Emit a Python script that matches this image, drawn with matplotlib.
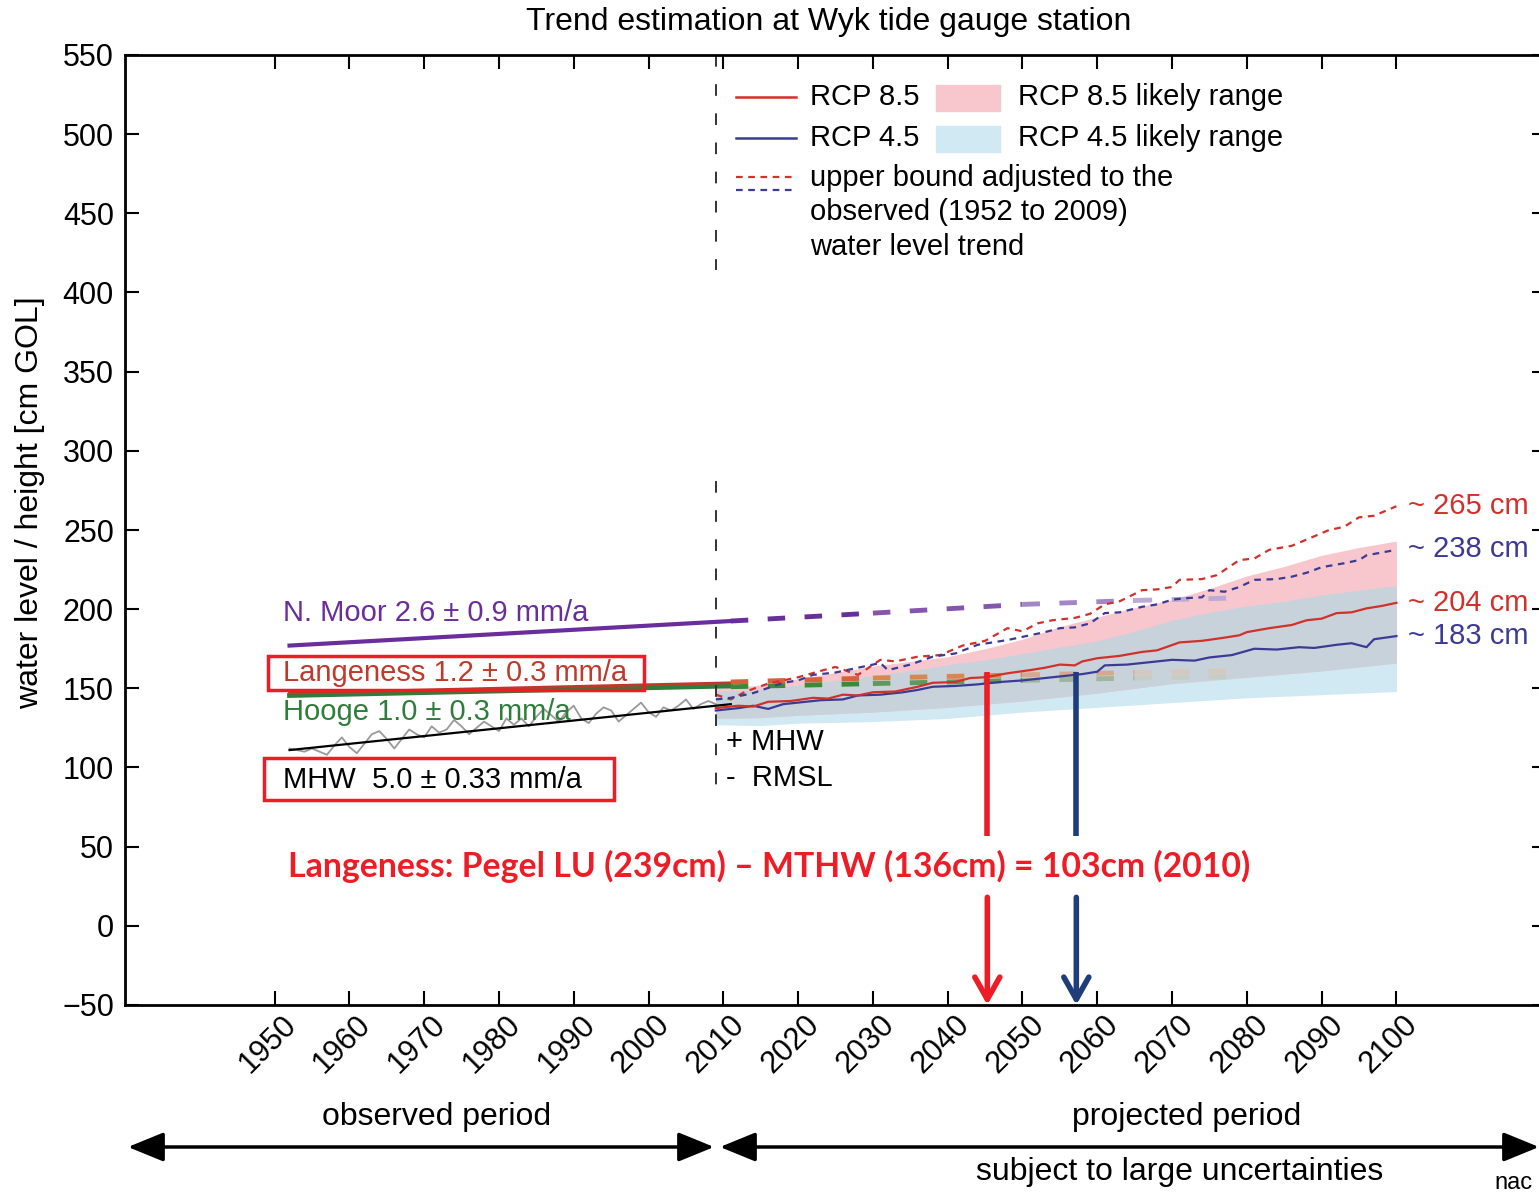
import matplotlib
matplotlib.use('Agg')
import matplotlib.pyplot as plt
import matplotlib.transforms as mtransforms
from matplotlib.lines import Line2D
from matplotlib.patches import Rectangle, FancyArrowPatch
import numpy as np

plt.rcParams['font.family'] = ['Liberation Sans', 'DejaVu Sans']

# ---- observed period (1952-2010) ----
obs_years = list(range(1952, 2010))
mhw_obs = [112, 111, 110, 112, 110, 108, 114, 119, 113, 109,
           115, 121, 123, 118, 112, 118, 124, 121, 119, 126,
           122, 124, 130, 126, 121, 125, 129, 126, 123, 131,
           127, 131, 126, 132, 137, 133, 129, 135, 139, 131,
           128, 134, 138, 136, 129, 133, 137, 141, 135, 132,
           138, 136, 139, 143, 137, 140, 142, 140]
trend_years = [1952, 2011]
mhw_trend = [111, 140]
moor_trend = [177, 192.5]
lang_trend = [147, 153.5]
hooge_trend = [145.5, 151.5]

# trends carried forward (dashed)
moor_proj_years = [2011, 2030, 2050, 2065, 2078]
moor_proj = [192.5, 197.5, 203, 205.5, 207]
lang_proj_years = [2011, 2030, 2050, 2065, 2079]
lang_proj = [154, 156.5, 158.5, 160, 161]
hooge_proj = [151, 153, 155, 156.5, 157.5]

# ---- projections ----
r85_years = [2009, 2012, 2014, 2016, 2019, 2022, 2024, 2026, 2028, 2030,
             2033, 2036, 2038, 2041, 2043, 2045, 2048, 2051, 2053, 2055,
             2057, 2058, 2060, 2063, 2066, 2068, 2071, 2074, 2077, 2079,
             2080, 2083, 2086, 2088, 2090, 2092, 2094, 2096, 2098, 2100]
r85 = [137.5, 139, 138.5, 141.5, 142, 144, 143.5, 146, 145.5, 147.5,
       148, 151, 153.5, 154, 156.5, 157, 159.5, 161.5, 163, 165,
       164.5, 167, 169, 170.5, 173, 174, 179, 180, 182, 183.5,
       185.5, 188, 190, 193, 194, 197.5, 198, 200.5, 202, 204]

r45_years = [2009, 2012, 2014, 2016, 2018, 2020, 2023, 2026, 2028, 2031,
             2034, 2036, 2038, 2041, 2044, 2047, 2050, 2052, 2055, 2058,
             2060, 2061, 2064, 2067, 2070, 2073, 2075, 2078, 2081, 2084,
             2087, 2089, 2092, 2094, 2096, 2097, 2100]
r45 = [136, 137.5, 139, 137, 140, 141, 142.5, 143, 145.5, 146,
       147.5, 149, 151, 151.5, 152.5, 154, 155, 156, 157.5, 159,
       160.5, 164.5, 165, 166.5, 168, 167.5, 169.5, 171, 175, 174.5,
       176, 175.5, 177.5, 178.5, 176, 181, 183]

u85_years = [2009, 2011, 2013, 2016, 2018, 2020, 2023, 2025, 2028, 2031,
             2033, 2036, 2039, 2042, 2045, 2048, 2050, 2052, 2054, 2057,
             2059, 2061, 2063, 2066, 2068, 2070, 2071, 2074, 2076, 2079,
             2081, 2083, 2086, 2088, 2091, 2093, 2095, 2097, 2100]
u85 = [146, 143, 148, 153, 155, 157, 161, 163.5, 158.5, 168,
       167, 170, 171, 177, 180, 188, 186, 191, 193, 194.5,
       197, 203, 205, 212, 212.5, 214, 218.5, 219, 221.5, 231,
       232, 237.5, 240, 244, 250, 252, 258, 259, 265]

u45_years = [2009, 2011, 2014, 2018, 2020, 2022, 2025, 2028, 2031, 2032,
             2035, 2038, 2041, 2044, 2048, 2051, 2053, 2055, 2057, 2059,
             2061, 2063, 2066, 2068, 2070, 2072, 2074, 2075, 2077, 2079,
             2081, 2084, 2086, 2088, 2090, 2093, 2095, 2096, 2100]
u45 = [143, 144, 147, 153.5, 155, 158.5, 160, 163, 166, 161.5,
       165, 170, 172, 177.5, 180.5, 183.5, 185.5, 188, 188.5, 191,
       197.5, 198, 201.5, 203, 206, 207, 207.5, 212, 211, 214,
       218.5, 219, 220.5, 223, 226.5, 229, 231, 234, 237.5]

band_years = [2009, 2015, 2020, 2025, 2030, 2035, 2040, 2045, 2050, 2055,
              2060, 2065, 2070, 2075, 2080, 2085, 2090, 2095, 2100]
r85_hi = [150, 152, 156, 160, 164, 167, 170, 175, 181, 189,
          195, 201, 206, 213, 221, 227, 234, 239, 243]
r85_lo = [131, 131.5, 133, 134, 135, 136.5, 138, 140, 142, 144.5,
          147, 150, 153, 155, 157, 159, 161, 163.5, 166]
r45_hi = [148, 149.5, 152, 155, 158, 161, 165, 168, 172, 176,
          180, 186, 193, 198, 202, 205, 209, 212, 215]
r45_lo = [127, 126.5, 128, 128.5, 129, 130, 131, 133, 135, 136.5,
          138, 139.5, 141, 142.5, 144, 145, 146, 147, 148]

end_labels = ['~ 265 cm', '~ 238 cm', '~ 204 cm', '~ 183 cm']
end_values = [265, 238, 204, 183]
arrow_years = [2045.3, 2057.2]
arrow_top = 160

xticks = list(range(1950, 2101, 10))
yticks = list(range(-50, 551, 50))

RED = '#d2302a'
BLUE = '#3b3b95'
PURPLE = '#6a2d9c'
GREEN = '#2f7d3a'
BOXRED = '#ee1c25'

W, H = 1539, 1192
fig = plt.figure(figsize=(W / 100, H / 100), dpi=100)
ax = fig.add_axes([125 / W, 187 / H, 1421 / W, 950 / H])
ax.set_xlim(1930, 2120)
ax.set_ylim(-50, 550)


def fx(px):
    return px / W


def fy(py):
    return 1 - py / H


# likely ranges
by = np.array(band_years)
ax.fill_between(by, r45_lo, r45_hi, color='#d0e9f2', lw=0)
ax.fill_between(by, r85_lo, r85_hi, color='#f8c7cd', lw=0)
ax.fill_between(by, np.maximum(r85_lo, r45_lo), np.minimum(r85_hi, r45_hi),
                color='#c8d2db', lw=0)

# observed
ax.plot(obs_years, mhw_obs, color='#999999', lw=1.3)
ax.plot(trend_years, mhw_trend, color='black', lw=1.6)
ax.plot(trend_years, moor_trend, color=PURPLE, lw=3)
ax.plot(trend_years, hooge_trend, color=GREEN, lw=3.5)
ax.plot(trend_years, lang_trend, color='#c0392b', lw=2)

# dashed continuation, fading out
moor_cols = ['#6a2d9c', '#8456ad', '#a386c4', '#bcaad6']
red_cols = ['#d8603a', '#d9864f', '#d6a98e', '#d6c8bc']
green_cols = ['#3a8a3a', '#5e9a5c', '#9fb59c', '#c7cdc4']
for i in range(len(moor_proj_years) - 1):
    ax.plot(moor_proj_years[i:i + 2], moor_proj[i:i + 2], color=moor_cols[i],
            lw=3.5, dashes=(3.6, 4))
    ax.plot(lang_proj_years[i:i + 2], hooge_proj[i:i + 2], color=green_cols[i],
            lw=3.5, dashes=(3.6, 4))
    ax.plot(lang_proj_years[i:i + 2], lang_proj[i:i + 2], color=red_cols[i],
            lw=3.5, dashes=(3.6, 4))

# projections
ax.plot(u85_years, u85, color=RED, lw=1.6, dashes=(3, 2.5))
ax.plot(u45_years, u45, color=BLUE, lw=1.6, dashes=(3, 2.5))
ax.plot(r45_years, r45, color=BLUE, lw=1.6)
ax.plot(r85_years, r85, color=RED, lw=1.6)

# split between observed / projected
ax.plot([2009, 2009], [550, 414], color='#333333', lw=1.4, dashes=(6, 9))
ax.plot([2009, 2009], [281, 83], color='#333333', lw=1.4, dashes=(6, 9))

# axes styling
ax.set_xticks(xticks)
ax.set_yticks(yticks)
ax.tick_params(direction='in', length=10, width=1.5, top=True, right=True,
               labelsize=22, pad=8)
for s in ax.spines.values():
    s.set_linewidth(2)
off = mtransforms.ScaledTranslation(0.17, -0.04, fig.dpi_scale_trans)
for lab in ax.get_xticklabels():
    lab.set_rotation(45)
    lab.set_ha('right')
    lab.set_va('center')
    lab.set_rotation_mode('anchor')
    lab.set_transform(lab.get_transform() + off)

fig.text(fx(829), fy(22), 'Trend estimation at Wyk tide gauge station',
         fontsize=23, ha='center', va='center')
fig.text(fx(30), fy(503), 'water level / height [cm GOL]', fontsize=23,
         rotation=90, ha='center', va='center')

# legend
fig.add_artist(Line2D([fx(736), fx(796)], [fy(97), fy(97)], color=RED, lw=1.8))
fig.add_artist(Line2D([fx(736), fx(796)], [fy(138), fy(138)], color=BLUE, lw=1.8))
fig.add_artist(Line2D([fx(736), fx(796)], [fy(177), fy(177)], color=RED, lw=1.6,
                      dashes=(3, 2.5)))
fig.add_artist(Line2D([fx(736), fx(796)], [fy(190), fy(190)], color=BLUE, lw=1.6,
                      dashes=(3, 2.5)))
fig.add_artist(Rectangle((fx(936), fy(111)), 64 / W, 26 / H, color='#f8c7cd',
                         transform=fig.transFigure))
fig.add_artist(Rectangle((fx(936), fy(152)), 64 / W, 26 / H, color='#d0e9f2',
                         transform=fig.transFigure))
leg_txt = [(810, 97, 'RCP 8.5'), (1018, 97, 'RCP 8.5 likely range'),
           (810, 138, 'RCP 4.5'), (1018, 138, 'RCP 4.5 likely range'),
           (810, 178, 'upper bound adjusted to the'),
           (810, 212, 'observed (1952 to 2009)'),
           (810, 247, 'water level trend')]
for x, y, t in leg_txt:
    fig.text(fx(x), fy(y), t, fontsize=21, ha='left', va='center')

# station labels
fig.text(fx(283), fy(613), 'N. Moor 2.6 ± 0.9 mm/a', color=PURPLE, fontsize=21,
         va='center')
fig.text(fx(283), fy(673), 'Langeness 1.2 ± 0.3 mm/a', color='#c0392b',
         fontsize=21, va='center')
fig.text(fx(283), fy(712), 'Hooge 1.0 ± 0.3 mm/a', color=GREEN, fontsize=21,
         va='center')
fig.text(fx(283), fy(780), 'MHW  5.0 ± 0.33 mm/a', color='black', fontsize=21,
         va='center')
fig.add_artist(Rectangle((fx(268), fy(690)), 376 / W, 34 / H, fill=False,
                         ec=BOXRED, lw=2.5, transform=fig.transFigure))
fig.add_artist(Rectangle((fx(264), fy(800)), 350 / W, 42 / H, fill=False,
                         ec=BOXRED, lw=2.5, transform=fig.transFigure))
fig.text(fx(726), fy(742), '+ MHW', fontsize=21, va='center')
fig.text(fx(726), fy(778), '-  RMSL', fontsize=21, va='center')

# end values
for t, v, c in zip(end_labels, end_values, [RED, BLUE, RED, BLUE]):
    ax.text(2101.5, v, t, color=c, fontsize=21, ha='left', va='center')

# Langeness annotation arrows
for yr, c in zip(arrow_years, [BOXRED, '#1f3d7a']):
    ax.plot([yr, yr], [arrow_top, 57], color=c, lw=4, solid_capstyle='butt')
    ax.annotate('', xy=(yr, -50), xytext=(yr, 18),
                arrowprops=dict(arrowstyle='->,head_length=0.8,head_width=0.45',
                                color=c, lw=4, shrinkA=0, shrinkB=0,
                                mutation_scale=20))
fig.text(fx(769), fy(866),
         'Langeness: Pegel LU (239cm) \u2013 MTHW (136cm) = 103cm (2010)',
         family=['Lato', 'DejaVu Sans'], fontweight='bold', color=BOXRED,
         fontsize=24.3, ha='center', va='center')

# period arrows below axes
for x0, x1 in [(128, 714), (720, 1539)]:
    fig.add_artist(FancyArrowPatch((fx(x0), fy(1147)), (fx(x1), fy(1147)),
                                   transform=fig.transFigure,
                                   arrowstyle='<|-|>,head_length=1.1,head_width=0.45',
                                   mutation_scale=20, lw=2.5, color='black',
                                   shrinkA=0, shrinkB=0))
fig.text(fx(437), fy(1117), 'observed period', fontsize=23, ha='center',
         va='center')
fig.text(fx(1187), fy(1117), 'projected period', fontsize=23, ha='center',
         va='center')
fig.text(fx(1180), fy(1172), 'subject to large uncertainties', fontsize=23,
         ha='center', va='center')
fig.text(fx(1494), fy(1189), 'nac', fontsize=17, ha='left', va='baseline')

fig.savefig('out.png', dpi=100)
